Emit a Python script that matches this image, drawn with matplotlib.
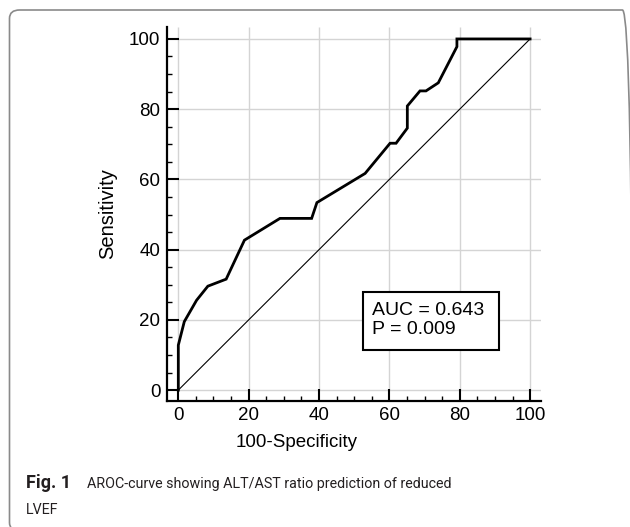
import matplotlib
matplotlib.use('Agg')
import matplotlib.pyplot as plt
from matplotlib.patches import FancyBboxPatch, Rectangle
from matplotlib.ticker import MultipleLocator

# ROC curve (100-specificity, sensitivity)
fpr = [0, 0, 1.7, 5.2, 8.4, 13.6, 18.8, 28.9, 37.9, 39.4, 53.1, 60.2, 61.9,
       65.1, 65.1, 68.7, 70.4, 73.9, 79.2, 79.2, 100]
tpr = [0, 12.8, 19.5, 25.6, 29.6, 31.6, 42.7, 48.9, 48.9, 53.4, 61.7, 70.3, 70.3,
       74.6, 80.9, 85.2, 85.2, 87.5, 97.8, 100, 100]
ref_line = [0, 100]
ticks = [0, 20, 40, 60, 80, 100]
auc_text = "AUC = 0.643\nP = 0.009"
caption_bold = "Fig. 1"
caption_line1 = "AROC-curve showing ALT/AST ratio prediction of reduced"
caption_line2 = "LVEF"

plt.rcParams['font.family'] = ['Liberation Sans', 'DejaVu Sans']

W, H = 630, 527
fig = plt.figure(figsize=(W / 100, H / 100), dpi=100)

# rounded frame around the figure
frame = FancyBboxPatch((9.5 / W, -4 / H), 623 / W, 521 / H,
                       boxstyle='round,pad=0,rounding_size=0.016',
                       transform=fig.transFigure, fc='none', ec='#8a8a8a', lw=1.2)
fig.patches.append(frame)

ax = fig.add_axes([166.7 / W, 1 - 401 / H, 374.3 / W, 374 / H])
ax.set_xlim(-3.3, 103.1)
ax.set_ylim(-3.1, 103.4)

for s in ['top', 'right']:
    ax.spines[s].set_visible(False)
for s in ['left', 'bottom']:
    ax.spines[s].set_linewidth(1.6)

# grid only over the data range
ax.vlines(ticks, 0, 103.4, color='#d4d4d4', lw=1.0, zorder=0)
ax.hlines(ticks, 0, 103.1, color='#d4d4d4', lw=1.0, zorder=0)

ax.plot(ref_line, ref_line, color='black', lw=0.8, zorder=2)
ax.plot(fpr, tpr, color='black', lw=2.0, zorder=3, solid_joinstyle='miter')

ax.set_xticks(ticks)
ax.set_yticks(ticks)
ax.xaxis.set_minor_locator(MultipleLocator(5))
ax.yaxis.set_minor_locator(MultipleLocator(5))
ax.tick_params(which='major', direction='in', length=8.3, width=1.5,
               labelsize=13.5, pad=4.5)
ax.tick_params(which='minor', direction='in', length=3.6, width=1.0)

ax.set_xlabel('100-Specificity', fontsize=13.5)
ax.set_ylabel('Sensitivity', fontsize=14.5)
ax.xaxis.set_label_coords(0.347, -0.088)
ax.xaxis.label.set_va('top')
ax.yaxis.set_label_coords(-0.133, 0.5)

ax.add_patch(Rectangle((52.5, 11.4), 38.7, 16.5, fc='white', ec='black',
                       lw=1.5, zorder=4))
ax.text(55.2, 19.9, auc_text, fontsize=14, ha='left', va='center',
        linespacing=1.15, zorder=5)

cap_font = ['Roboto', 'DejaVu Sans']
fig.text(26 / W, (H - 488) / H, caption_bold, fontsize=13, fontweight='bold',
         family=cap_font, color='#231f20', va='baseline')
fig.text(87 / W, (H - 488) / H, caption_line1, fontsize=10.3,
         family=cap_font, color='#231f20', va='baseline')
fig.text(26 / W, (H - 514) / H, caption_line2, fontsize=10.3,
         family=cap_font, color='#231f20', va='baseline')

fig.savefig('out.png', dpi=100)
